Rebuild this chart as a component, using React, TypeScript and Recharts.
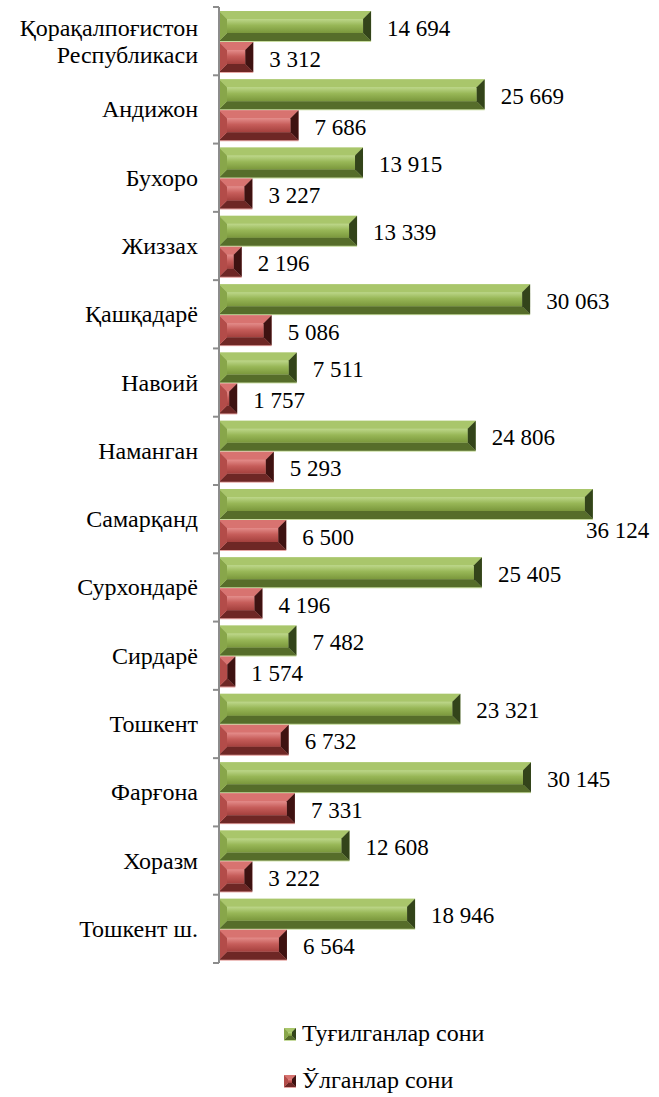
import React from 'react';
import { BarChart, Bar, XAxis, YAxis, LabelList } from 'recharts';

const regions = [
  'Қорақалпоғистон Республикаси',
  'Андижон',
  'Бухоро',
  'Жиззах',
  'Қашқадарё',
  'Навоий',
  'Наманган',
  'Самарқанд',
  'Сурхондарё',
  'Сирдарё',
  'Тошкент',
  'Фарғона',
  'Хоразм',
  'Тошкент ш.',
];
const births = [14694, 25669, 13915, 13339, 30063, 7511, 24806, 36124, 25405, 7482, 23321, 30145, 12608, 18946];
const deaths = [3312, 7686, 3227, 2196, 5086, 1757, 5293, 6500, 4196, 1574, 6732, 7331, 3222, 6564];
const seriesNames = ['Туғилганлар сони', 'Ўлганлар сони'];
const xDomain = [0, 40000];

const data = regions.map((name, i) => ({ name, births: births[i], deaths: deaths[i] }));

const W = 659;
const H = 1097;
const TOP = 7;
const BOTTOM = 134;
const AXIS_W = 219;
const RIGHT = 26;
const BAND = (H - TOP - BOTTOM) / regions.length;
const FONT = "'Liberation Serif', 'Times New Roman', serif";

type Theme = {
  id: string;
  faceTop: string;
  faceMid: string;
  faceBot: string;
  top: string;
  bottom: string;
  left: string;
  right: string;
  rim: string;
};

const GREEN: Theme = {
  id: 'g',
  faceTop: '#bdd78a',
  faceMid: '#98b757',
  faceBot: '#7a973c',
  top: '#a9c66b',
  bottom: '#566d2a',
  left: '#88a64a',
  right: '#33441a',
  rim: '#c8dca0',
};
const RED: Theme = {
  id: 'r',
  faceTop: '#e48c8a',
  faceMid: '#c65d5a',
  faceBot: '#a4403d',
  top: '#d87370',
  bottom: '#6e2725',
  left: '#b34c49',
  right: '#3e1211',
  rim: '#e6a7a5',
};

function bevelPolys(x: number, y: number, w: number, h: number, bb: number) {
  const b = Math.max(0, Math.min(bb, h / 2, w / 2));
  return {
    b,
    top: `${x},${y} ${x + w},${y} ${x + w - b},${y + b} ${x + b},${y + b}`,
    bottom: `${x},${y + h} ${x + w},${y + h} ${x + w - b},${y + h - b} ${x + b},${y + h - b}`,
    left: `${x},${y} ${x + b},${y + b} ${x + b},${y + h - b} ${x},${y + h}`,
    right: `${x + w},${y} ${x + w - b},${y + b} ${x + w - b},${y + h - b} ${x + w},${y + h}`,
  };
}

// bar drawn as a bevelled block: flat face plus four sloped edges
function Bevel({ x, y, width, height, theme, size }: any) {
  if (!width || width <= 0) return null;
  const p = bevelPolys(x, y, width, height, size);
  const gid = `face-${theme.id}`;
  return (
    <g>
      <defs>
        <linearGradient id={gid} x1="0" y1="0" x2="0" y2="1">
          <stop offset="0%" stopColor={theme.faceTop} />
          <stop offset="45%" stopColor={theme.faceMid} />
          <stop offset="100%" stopColor={theme.faceBot} />
        </linearGradient>
      </defs>
      <rect x={x} y={y} width={width} height={height + 1} fill={theme.rim} />
      <rect x={x + p.b} y={y + p.b} width={width - 2 * p.b} height={height - 2 * p.b} fill={`url(#${gid})`} />
      <polygon points={p.top} fill={theme.top} />
      <polygon points={p.bottom} fill={theme.bottom} />
      <polygon points={p.left} fill={theme.left} />
      <polygon points={p.right} fill={theme.right} />
    </g>
  );
}

const fmt = (v: number) => String(v).replace(/\B(?=(\d{3})+(?!\d))/g, ' ');

function ValueLabel({ x, y, width, height, value }: any) {
  const end = x + width;
  const big = end + 80 > W; // no room on the right: drop under the bar end
  return (
    <text
      x={big ? end - 7 : end + 16}
      y={big ? y + height + 11 : y + height / 2 + 2}
      fontFamily={FONT}
      fontSize={23}
      fill="#000"
      dominantBaseline="central"
    >
      {fmt(value)}
    </text>
  );
}

function CategoryTick({ y, payload, index }: any) {
  const words: string[] = payload.value === regions[0] ? payload.value.split(' ') : [payload.value];
  const tickTop = y - BAND / 2;
  const isLast = index === regions.length - 1;
  return (
    <g>
      <line x1={AXIS_W - 6} x2={AXIS_W} y1={tickTop} y2={tickTop} stroke="#8c8c8c" strokeWidth={2} />
      {isLast && (
        <line x1={AXIS_W - 6} x2={AXIS_W} y1={y + BAND / 2} y2={y + BAND / 2} stroke="#8c8c8c" strokeWidth={2} />
      )}
      {words.map((w, i) => (
        <text
          key={w}
          x={AXIS_W - 21}
          y={y + (i - (words.length - 1) / 2) * 27}
          textAnchor="end"
          dominantBaseline="central"
          fontFamily={FONT}
          fontSize={24}
          fill="#000"
        >
          {w}
        </text>
      ))}
    </g>
  );
}

function LegendBox() {
  const themes = [GREEN, RED];
  return (
    <div style={{ position: 'absolute', left: 284, top: 1010, fontFamily: FONT, fontSize: 24, color: '#000' }}>
      {seriesNames.map((n, i) => (
        <div key={n} style={{ display: 'flex', alignItems: 'center', height: 47 }}>
          <svg width={14} height={14} style={{ marginRight: 4 }}>
            <Bevel x={0} y={1} width={12} height={12} theme={themes[i]} size={4} />
          </svg>
          <span>{n}</span>
        </div>
      ))}
    </div>
  );
}

export default function App() {
  return (
    <div style={{ position: 'absolute', left: 0, top: 0, width: W, height: H, background: '#fff' }}>
      <BarChart
        width={W}
        height={H}
        data={data}
        layout="vertical"
        margin={{ top: TOP, right: RIGHT, bottom: BOTTOM, left: 0 }}
        barSize={30}
        barGap={1}
      >
        <XAxis type="number" domain={xDomain} hide />
        <YAxis
          type="category"
          dataKey="name"
          width={AXIS_W}
          interval={0}
          tickLine={false}
          axisLine={{ stroke: '#8c8c8c', strokeWidth: 2 }}
          tick={<CategoryTick />}
        />
        <Bar dataKey="births" name={seriesNames[0]} isAnimationActive={false} shape={(p: any) => <Bevel {...p} theme={GREEN} size={8} />}>
          <LabelList dataKey="births" content={<ValueLabel />} />
        </Bar>
        <Bar dataKey="deaths" name={seriesNames[1]} isAnimationActive={false} shape={(p: any) => <Bevel {...p} theme={RED} size={8} />}>
          <LabelList dataKey="deaths" content={<ValueLabel />} />
        </Bar>
      </BarChart>
      <LegendBox />
    </div>
  );
}
